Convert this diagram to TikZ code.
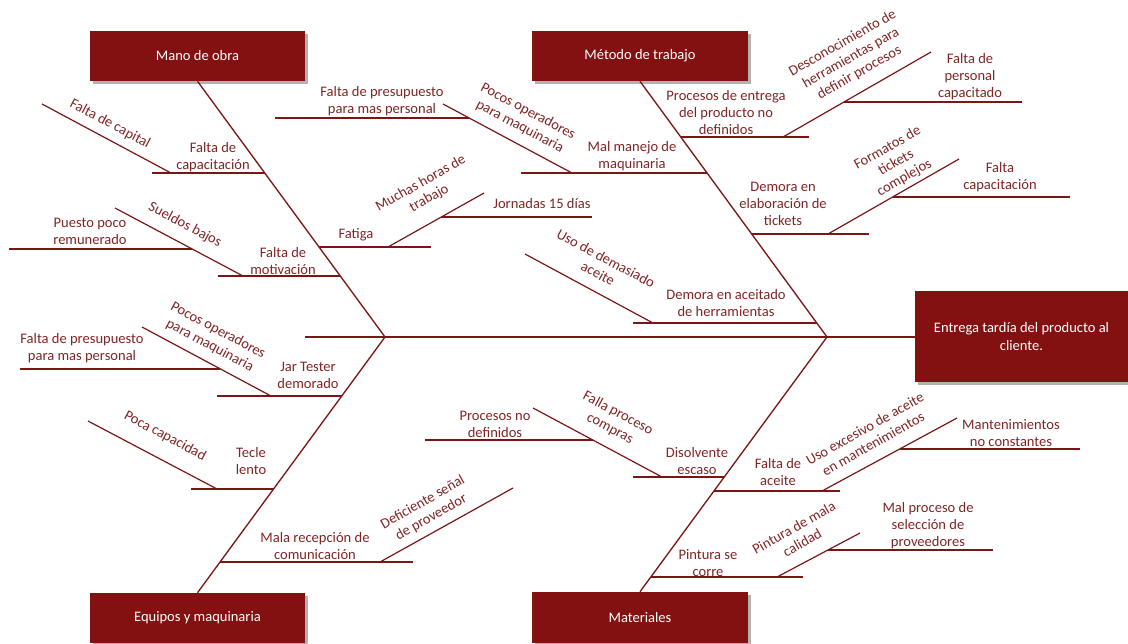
\documentclass[tikz,border=0pt]{standalone}
\usepackage{fontspec}
\setmainfont{Carlito}
\usetikzlibrary{shadows}
\definecolor{boxred}{RGB}{132,17,17}
\definecolor{linered}{RGB}{122,22,22}
\definecolor{txtred}{RGB}{128,36,36}
\tikzset{
  catbox/.style={rectangle, fill=boxred, text=white, inner sep=0pt, align=center,
    font=\fontsize{10.9}{12.8}\selectfont,
    drop shadow={shadow xshift=2pt, shadow yshift=-2pt, fill=black, opacity=0.3}},
  bone/.style={draw=linered, line width=1pt},
  twig/.style={draw=linered, line width=0.9pt},
  lbl/.style={text=txtred, align=center, inner sep=0pt, font=\fontsize{10.9}{12.8}\selectfont},
  dn/.style={lbl, rotate=-28},
  up/.style={lbl, rotate=29.5}
}
\begin{document}
\begin{tikzpicture}[x=0.75pt,y=-0.75pt]
\useasboundingbox (0,0) rectangle (1128,643);

% category boxes and effect
\node[catbox, minimum width=161.25pt, minimum height=37.5pt] (mano) at (197.5,56) {Mano de obra};
\node[catbox, minimum width=162pt, minimum height=37.5pt] (metodo) at (640,56) {Método de trabajo};
\node[catbox, minimum width=161.25pt, minimum height=37.5pt] (equipos) at (197.5,618) {Equipos y maquinaria};
\node[catbox, minimum width=162pt, minimum height=38.25pt] (materiales) at (640,617.5) {Materiales};
\node[catbox, minimum width=159.75pt, minimum height=68.25pt] (efecto) at (1021.5,336.5) {Entrega tardía del producto al\\cliente.};

% spine and main bones
\coordinate (tail) at (305,337);
\coordinate (hL) at (385,337);
\coordinate (hR) at (827,337);
\draw[bone] (tail) -- (efecto.west |- tail);
\draw[bone] (mano.south) -- (hL) -- (equipos.north);
\draw[bone] (metodo.south) -- (hR) -- (materiales.north);

% ---------- Mano de obra ----------
\coordinate (a1) at (152,173);   \coordinate (a1b) at (265,173);
\coordinate (a1d) at (42,104);   \coordinate (a1e) at (171,173);
\draw[twig] (a1) -- (a1b);
\draw[twig] (a1d) -- (a1e);
\node[lbl] (l-a1) at (213,157) {Falta de\\capacitación};
\node[dn] (l-a1d) at (110,124) {Falta de capital};

\coordinate (a2) at (218,276);   \coordinate (a2b) at (340.3,276);
\coordinate (a2d) at (115,208);  \coordinate (a2e) at (243,276);
\coordinate (a2f) at (9,249);    \coordinate (a2g) at (192,249);
\draw[twig] (a2) -- (a2b);
\draw[twig] (a2d) -- (a2e);
\draw[twig] (a2f) -- (a2g);
\node[lbl] (l-a2) at (283,261) {Falta de\\motivación};
\node[dn] (l-a2d) at (185,225) {Sueldos bajos};
\node[lbl] (l-a2f) at (90,231) {Puesto poco\\remunerado};

\coordinate (a3) at (319.1,247); \coordinate (a3b) at (431,247);
\coordinate (a3d) at (388,247);  \coordinate (a3e) at (484,193);
\coordinate (a3f) at (441,217);  \coordinate (a3g) at (592,217);
\draw[twig] (a3) -- (a3b);
\draw[twig] (a3d) -- (a3e);
\draw[twig] (a3f) -- (a3g);
\node[lbl] (l-a3) at (356,235) {Fatiga};
\node[up] (l-a3d) at (425,191) {Muchas horas de\\trabajo};
\node[lbl] (l-a3f) at (542,204) {Jornadas 15 días};

% ---------- Método de trabajo ----------
\coordinate (b0) at (521,173);   \coordinate (b0b) at (707.2,173);
\coordinate (b0d) at (443,104);  \coordinate (b0e) at (572,173);
\coordinate (b0f) at (275,118);  \coordinate (b0g) at (469,118);
\draw[twig] (b0) -- (b0b);
\draw[twig] (b0d) -- (b0e);
\draw[twig] (b0f) -- (b0g);
\node[lbl] (l-b0) at (632,156) {Mal manejo de\\maquinaria};
\node[dn] (l-b0d) at (524,119) {Pocos operadores\\para maquinaria};
\node[lbl] (l-b0f) at (382,101.5) {Falta de presupuesto\\para mas personal};

\coordinate (b1) at (680.9,137); \coordinate (b1b) at (809,137);
\coordinate (b1d) at (783,137);  \coordinate (b1e) at (931,52);
\coordinate (b1f) at (844,102);  \coordinate (b1g) at (1022,102);
\draw[twig] (b1) -- (b1b);
\draw[twig] (b1d) -- (b1e);
\draw[twig] (b1f) -- (b1g);
\node[lbl] (l-b1) at (726,112.5) {Procesos de entrega\\del producto no\\definidos};
\node[up] (l-b1d) at (851,58) {Desconocimiento de\\herramientas para\\definir procesos};
\node[lbl] (l-b1f) at (970,77) {Falta de\\personal\\capacitado};

\coordinate (b2) at (751.8,234); \coordinate (b2b) at (869,234);
\coordinate (b2d) at (828,234);  \coordinate (b2e) at (959,159);
\coordinate (b2f) at (892.6,197);\coordinate (b2g) at (1070,197);
\draw[twig] (b2) -- (b2b);
\draw[twig] (b2d) -- (b2e);
\draw[twig] (b2f) -- (b2g);
\node[lbl] (l-b2) at (783,204) {Demora en\\elaboración de\\tickets};
\node[up] (l-b2d) at (896,163) {Formatos de\\tickets\\complejos};
\node[lbl] (l-b2f) at (1000,177) {Falta\\capacitación};

\coordinate (b3) at (633,323);   \coordinate (b3b) at (816.8,323);
\coordinate (b3d) at (525,254);  \coordinate (b3e) at (653,323);
\draw[twig] (b3) -- (b3b);
\draw[twig] (b3d) -- (b3e);
\node[lbl] (l-b3) at (726,303) {Demora en aceitado\\de herramientas};
\node[dn] (l-b3d) at (602,266) {Uso de demasiado\\aceite};

% ---------- Equipos y maquinaria ----------
\coordinate (c1) at (217,396);   \coordinate (c1b) at (341.8,396);
\coordinate (c1d) at (142,327);  \coordinate (c1e) at (271,396);
\coordinate (c1f) at (20,369);   \coordinate (c1g) at (220,369);
\draw[twig] (c1) -- (c1b);
\draw[twig] (c1d) -- (c1e);
\draw[twig] (c1f) -- (c1g);
\node[lbl] (l-c1) at (308,375) {Jar Tester\\demorado};
\node[dn] (l-c1d) at (214,338) {Pocos operadores\\para maquinaria};
\node[lbl] (l-c1f) at (82,348) {Falta de presupuesto\\para mas personal};

\coordinate (c2) at (191,489);   \coordinate (c2b) at (273.7,489);
\coordinate (c2d) at (88,421);   \coordinate (c2e) at (217,489);
\draw[twig] (c2) -- (c2b);
\draw[twig] (c2d) -- (c2e);
\node[lbl] (l-c2) at (251,461) {Tecle\\lento};
\node[dn] (l-c2d) at (165,436) {Poca capacidad};

\coordinate (c3) at (220.2,562); \coordinate (c3b) at (413,562);
\coordinate (c3d) at (380,562);  \coordinate (c3e) at (513,488);
\draw[twig] (c3) -- (c3b);
\draw[twig] (c3d) -- (c3e);
\node[lbl] (l-c3) at (315,546) {Mala recepción de\\comunicación};
\node[up] (l-c3d) at (427,510) {Deficiente señal\\de proveedor};

% ---------- Materiales ----------
\coordinate (d1) at (633,477);   \coordinate (d1b) at (724.3,477);
\coordinate (d1d) at (533,408);  \coordinate (d1e) at (662,477);
\coordinate (d1f) at (425,440);  \coordinate (d1g) at (592.8,440);
\draw[twig] (d1) -- (d1b);
\draw[twig] (d1d) -- (d1e);
\draw[twig] (d1f) -- (d1g);
\node[lbl] (l-d1) at (697,461) {Disolvente\\escaso};
\node[dn] (l-d1d) at (614,421) {Falla proceso\\compras};
\node[lbl] (l-d1f) at (495,424) {Procesos no\\definidos};

\coordinate (d2) at (714.1,491); \coordinate (d2b) at (840,491);
\coordinate (d2d) at (822,491);  \coordinate (d2e) at (957,418);
\coordinate (d2f) at (899.7,449);\coordinate (d2g) at (1080,449);
\draw[twig] (d2) -- (d2b);
\draw[twig] (d2d) -- (d2e);
\draw[twig] (d2f) -- (d2g);
\node[lbl] (l-d2) at (778,472) {Falta de\\aceite};
\node[up] (l-d2d) at (869,436) {Uso excesivo de aceite\\en mantenimientos};
\node[lbl] (l-d2f) at (1011,433) {Mantenimientos\\no constantes};

\coordinate (d3) at (651,577);   \coordinate (d3b) at (803,577);
\coordinate (d3d) at (777,577);  \coordinate (d3e) at (860,533);
\coordinate (d3f) at (828,550);  \coordinate (d3g) at (993,550);
\draw[twig] (d3) -- (d3b);
\draw[twig] (d3d) -- (d3e);
\draw[twig] (d3f) -- (d3g);
\node[lbl] (l-d3) at (708,563) {Pintura se\\corre};
\node[up] (l-d3d) at (798,535) {Pintura de mala\\calidad};
\node[lbl] (l-d3f) at (928,526) {Mal proceso de\\selección de\\proveedores};
\end{tikzpicture}
\end{document}
